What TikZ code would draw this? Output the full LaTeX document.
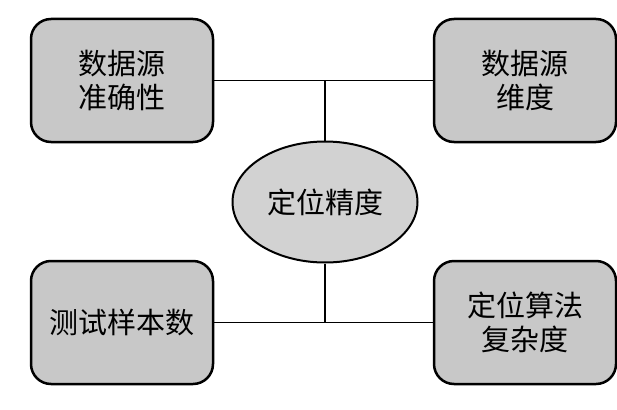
\documentclass[tikz,border=0pt]{standalone}
\usepackage{fontspec}
\newfontfamily\cjk{Noto Sans CJK SC}
\usetikzlibrary{shapes.geometric}
\definecolor{boxgray}{RGB}{200,200,200}
\definecolor{ellgray}{RGB}{210,210,210}
\begin{document}
\begin{tikzpicture}[x=1pt,y=-1pt,
  box/.style={draw, line width=2.5pt, rounded corners=20pt, fill=boxgray,
    font=\cjk\fontsize{29}{34}\selectfont, align=center,
    minimum width=182pt, minimum height=123pt, inner sep=0pt},
  ell/.style={draw, ellipse, line width=2pt, fill=ellgray,
    font=\cjk\fontsize{29}{34}\selectfont,
    minimum width=185pt, minimum height=121pt, inner sep=0pt},
  conn/.style={line width=1.3pt}]
\useasboundingbox (0,0) rectangle (617,409);
\node[box] (tl) at (122,80.5) {数据源\\准确性};
\node[box] (tr) at (525,80.5) {数据源\\维度};
\node[box] (bl) at (122,322.5) {测试样本数};
\node[box] (br) at (525,322.5) {定位算法\\复杂度};
\node[ell] (e) at (325,202) {定位精度};
\coordinate (top) at (e.north |- tl.east);
\coordinate (bot) at (e.south |- bl.east);
\draw[conn] (tl.east) -- (tr.west);
\draw[conn] (e.north) -- (top);
\draw[conn] (bl.east) -- (br.west);
\draw[conn] (e.south) -- (bot);
\end{tikzpicture}
\end{document}
